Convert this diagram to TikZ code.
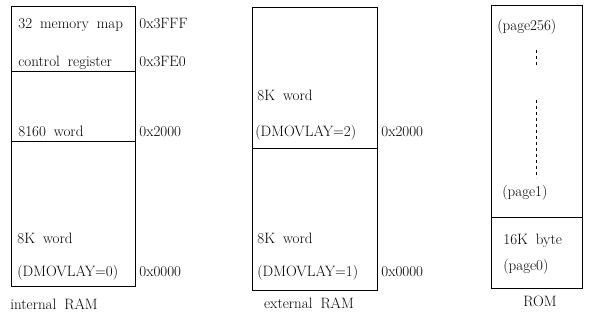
\documentclass[tikz,border=0pt]{standalone}
\usepackage{tikz}
\newcommand\widesp{\fontsize{15}{17}\selectfont\spaceskip=8pt plus 1pt\relax}
\begin{document}
\begin{tikzpicture}[x=1pt,y=-1pt,line width=0.8pt,
   lbl/.style={anchor=west,inner sep=0pt,text height=10pt,text depth=3pt,
               font=\widesp},
   ttl/.style={lbl,anchor=center}]
   \useasboundingbox (0,0) rectangle (594,322);
   % internal RAM
   \draw (11,6) rectangle (135,286);
   \draw (11,71) -- (135,71);
   \draw (11,141) -- (135,141);
   \node[lbl] (map)  at (18,25)  {32 memory map};
   \node[lbl] (ctrl) at (18,63)  {control register};
   \node[lbl] (wrd)  at (18,133) {8160 word};
   \node[lbl] (ik)   at (17,240) {8K word};
   \node[lbl] (iov)  at (17,273) {(DMOVLAY=0)};
   \foreach \y/\t [count=\i] in {25/0x3FFF,63/0x3FE0,133/0x2000,273/0x0000}
      \node[lbl] (ia\i) at (139,\y) {\t};
   \node[ttl] (iram) at (54,306) {internal RAM};
   % external RAM
   \draw (252,7) rectangle (377,290);
   \draw (252,148) -- (377,148);
   \node[lbl] (ek2)  at (257,97)  {8K word};
   \node[lbl] (eov2) at (255,133) {(DMOVLAY=2)};
   \node[lbl] (ek1)  at (257,240) {8K word};
   \node[lbl] (eov1) at (257,273) {(DMOVLAY=1)};
   \foreach \y/\t [count=\i] in {133/0x2000,273/0x0000}
      \node[lbl] (ea\i) at (381,\y) {\t};
   \node[ttl] (eram) at (309,305) {external RAM};
   % ROM
   \draw (491,5) rectangle (582,288);
   \draw (491,217) -- (582,217);
   \draw[dashed,line width=0.6pt] (536,50) -- (536,65);
   \draw[dashed,line width=0.6pt] (536,100) -- (536,178);
   \node[lbl] (p256) at (497,27)  {(page256)};
   \node[lbl] (p1)   at (502,193) {(page1)};
   \node[lbl] (kb)   at (503,241) {16K byte};
   \node[lbl] (p0)   at (503,267) {(page0)};
   \node[ttl] (rom)  at (540,303) {ROM};
\end{tikzpicture}
\end{document}
